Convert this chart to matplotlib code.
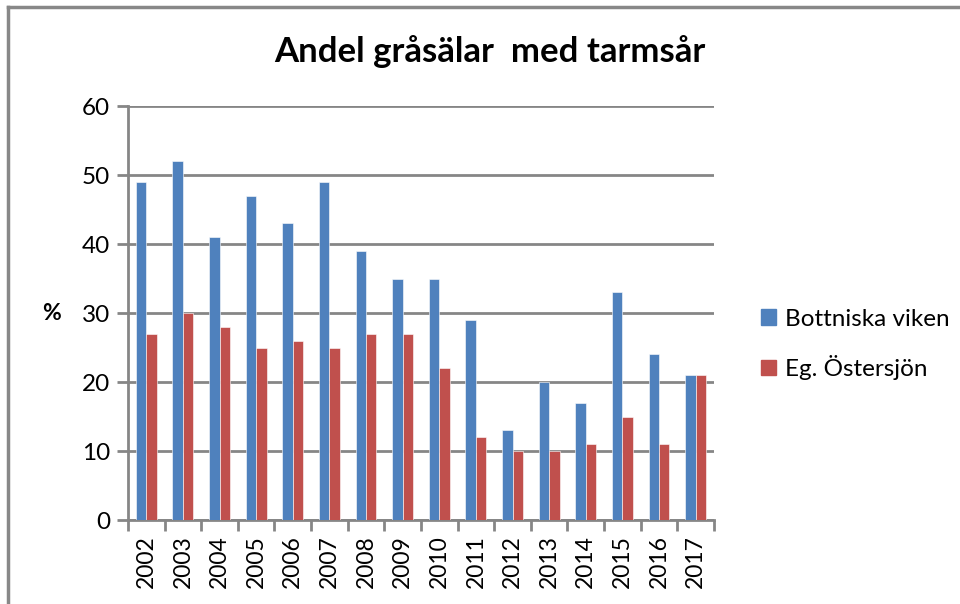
import numpy as np
import matplotlib.pyplot as plt
from matplotlib.lines import Line2D
from matplotlib.patches import Patch

#----------------------------------------
# data
years = ["2002", "2003", "2004", "2005", "2006", "2007", "2008", "2009",
         "2010", "2011", "2012", "2013", "2014", "2015", "2016", "2017"]
bottniska = [49, 52, 41, 47, 43, 49, 39, 35, 35, 29, 13, 20, 17, 33, 24, 21]
ostersjon = [27, 30, 28, 25, 26, 25, 27, 27, 22, 12, 10, 10, 11, 15, 11, 21]
series_names = ["Bottniska viken", "Eg. Östersjön"]
#----------------------------------------

plt.rcParams['font.family'] = ['Lato', 'DejaVu Sans']
blue = "#4F81BD"
red = "#C0504D"
grey = "#868686"

fig = plt.figure(figsize=(9.6, 6.04), dpi=100)
ax = fig.add_axes([0.1333, 0.139, 0.6104, 0.6854])

x = np.arange(len(years))
w = 1 / 3.5
ax.bar(x - w / 2, bottniska, w, color=blue, edgecolor="white", linewidth=0.4, zorder=3)
ax.bar(x + w / 2, ostersjon, w, color=red, edgecolor="white", linewidth=0.4, zorder=3)

ax.set_xlim(-0.5, len(years) - 0.5)
ax.set_ylim(0, 60)
ax.set_yticks(range(0, 61, 10))
ax.yaxis.grid(True, color=grey, linewidth=2, zorder=0)
ax.set_xticks(x)
ax.set_xticklabels(years, rotation=90, fontsize=16.5)
ax.set_xticks(np.arange(-0.5, len(years)), minor=True)
ax.tick_params(axis='x', which='major', length=0, pad=11)
ax.tick_params(axis='x', which='minor', length=8, width=2, color=grey)
ax.tick_params(axis='y', length=8, width=2, color=grey, labelsize=17.5, pad=5)

for s in ["top", "right"]:
    ax.spines[s].set_visible(False)
for s in ["left", "bottom"]:
    ax.spines[s].set_color(grey)
    ax.spines[s].set_linewidth(2)

ax.set_ylabel("%", rotation=0, fontsize=16.5, fontweight="bold", labelpad=22, va="center")

fig.text(0.51, 0.915, "Andel gråsälar  med tarmsår", fontsize=25, fontweight="bold",
         ha="center", va="center")

handles = [Patch(color=blue), Patch(color=red)]
fig.legend(handles, series_names, loc="center left", bbox_to_anchor=(0.77, 0.43),
           frameon=False, fontsize=17.5, handlelength=0.6, handleheight=0.6,
           handletextpad=0.4, labelspacing=1.05)

# chart border (top and left only visible)
fig.add_artist(Line2D([8 / 960, 1], [597 / 604, 597 / 604], color="#888888", linewidth=2.5))
fig.add_artist(Line2D([8 / 960, 8 / 960], [0, 597 / 604], color="#888888", linewidth=2.5))

fig.savefig("out.png", dpi=100)
